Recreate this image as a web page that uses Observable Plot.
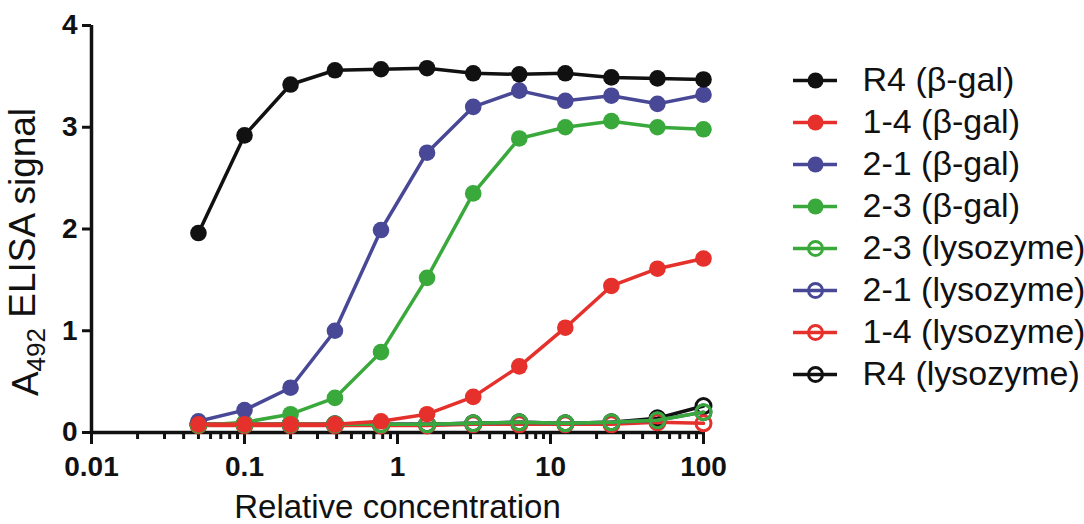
<!DOCTYPE html>
<html>
<head>
<meta charset="utf-8">
<script src="https://cdn.jsdelivr.net/npm/d3@7"></script>
<script src="https://cdn.jsdelivr.net/npm/@observablehq/plot@0.6"></script>
<style>
  html, body { margin: 0; padding: 0; background: #ffffff; }
  #wrap { display: flex; width: 1084px; height: 524px; }
</style>
</head>
<body>
<div id="wrap"></div>
<script>
// ---- data ----
const concentrations = [0.05, 0.1, 0.2, 0.39, 0.78, 1.56, 3.125, 6.25, 12.5, 25, 50, 100];
const seriesNames = ["R4 (β-gal)", "1-4 (β-gal)", "2-1 (β-gal)", "2-3 (β-gal)",
                     "2-3 (lysozyme)", "2-1 (lysozyme)", "1-4 (lysozyme)", "R4 (lysozyme)"];
const seriesColors = ["#111111", "#e5302b", "#484896", "#3aa93c",
                      "#3aa93c", "#484896", "#e5302b", "#111111"];
const seriesFilled = [true, true, true, true, false, false, false, false];
const r4Gal   = [1.96, 2.92, 3.42, 3.56, 3.57, 3.58, 3.53, 3.52, 3.53, 3.49, 3.48, 3.47];
const one4Gal = [0.08, 0.08, 0.08, 0.08, 0.11, 0.18, 0.35, 0.65, 1.03, 1.44, 1.61, 1.71];
const two1Gal = [0.11, 0.22, 0.44, 1.00, 1.99, 2.75, 3.20, 3.36, 3.26, 3.31, 3.23, 3.32];
const two3Gal = [0.07, 0.10, 0.18, 0.34, 0.79, 1.52, 2.35, 2.89, 3.00, 3.06, 3.00, 2.98];
const two3Lys = [0.08, 0.08, 0.08, 0.08, 0.08, 0.08, 0.09, 0.10, 0.09, 0.10, 0.12, 0.20];
const two1Lys = [0.08, 0.08, 0.08, 0.08, 0.08, 0.08, 0.09, 0.10, 0.09, 0.10, 0.12, 0.20];
const one4Lys = [0.07, 0.07, 0.07, 0.07, 0.07, 0.07, 0.08, 0.08, 0.08, 0.08, 0.10, 0.09];
const r4Lys   = [0.08, 0.08, 0.08, 0.08, 0.08, 0.08, 0.09, 0.10, 0.09, 0.10, 0.14, 0.26];
const seriesValues = [r4Gal, one4Gal, two1Gal, two3Gal, two3Lys, two1Lys, one4Lys, r4Lys];
const xTickValues = [0.01, 0.1, 1, 10, 100];
const yTickValues = [0, 1, 2, 3, 4];
const xLabel = "Relative concentration";

// ---- build table ----
const rows = [];
seriesNames.forEach((name, i) => {
  seriesValues[i].forEach((v, j) => rows.push({series: name, conc: concentrations[j], value: v}));
});
// minor log ticks (2..9 within each decade)
const minorTicks = [];
for (let k = 0; k < xTickValues.length - 1; k++)
  for (let m = 2; m <= 9; m++) minorTicks.push(+(xTickValues[k] * m).toPrecision(3));

// draw order: lysozyme series first, then β-gal series with R4 on top
const drawOrder = [7, 6, 5, 4, 3, 2, 1, 0];
const FONT = "'Liberation Sans', Arial, Helvetica, sans-serif";

const seriesMarks = [];
for (const i of drawOrder) {
  const data = rows.filter(d => d.series === seriesNames[i]);
  seriesMarks.push(Plot.line(data, {x: "conc", y: "value", stroke: seriesColors[i], strokeWidth: 3.5}));
  if (seriesFilled[i]) {
    seriesMarks.push(Plot.dot(data, {x: "conc", y: "value", r: 8.3, fill: seriesColors[i], stroke: "none"}));
  } else {
    seriesMarks.push(Plot.dot(data, {x: "conc", y: "value", r: 7.5, fill: "none", stroke: seriesColors[i], strokeWidth: 3}));
  }
}

const chart = Plot.plot({
  width: 740,
  height: 524,
  marginLeft: 91,
  marginRight: 37,
  marginTop: 25,
  marginBottom: 92,
  style: {fontFamily: FONT, background: "transparent", overflow: "visible", color: "#111"},
  x: {type: "log", domain: [0.01, 100]},
  y: {domain: [0, 4]},
  marks: [
    Plot.axisX({ticks: minorTicks, tickSize: 7, strokeWidth: 3, tickFormat: () => "", label: null}),
    Plot.axisX({ticks: xTickValues, tickSize: 12, tickPadding: 12, strokeWidth: 3,
                tickFormat: d => String(d), fontSize: 28, fontWeight: "bold", label: null}),
    Plot.axisY({ticks: yTickValues, tickSize: 9, tickPadding: 5, strokeWidth: 3,
                tickFormat: d => String(d), fontSize: 28, fontWeight: "bold", label: null}),
    Plot.ruleY([0], {stroke: "#111", strokeWidth: 3.5}),
    Plot.ruleX([0.01], {stroke: "#111", strokeWidth: 3.5}),
    Plot.text([xLabel], {text: d => d, frameAnchor: "bottom", dy: 85, fontSize: 33, fill: "#111"}),
    ...seriesMarks
  ]
});

// y-axis title with subscript
const svg = d3.select(chart);
const yt = svg.append("text")
  .attr("transform", "translate(38,252) rotate(-90)")
  .attr("text-anchor", "middle")
  .attr("font-size", 37)
  .attr("font-family", FONT)
  .attr("fill", "#111");
yt.append("tspan").text("A");
yt.append("tspan").attr("font-size", 26).attr("dy", "0.28em").text("492");
yt.append("tspan").attr("dy", "-0.28em").text(" ELISA signal");

// ---- legend (drawn with Plot too) ----
const legendRows = seriesNames.map((name, i) => ({name, color: seriesColors[i], filled: seriesFilled[i]}));
const legend = Plot.plot({
  width: 344,
  height: 524,
  margin: 0,
  style: {fontFamily: FONT, background: "transparent", overflow: "visible"},
  x: {type: "identity", axis: null},
  y: {type: "point", domain: seriesNames, range: [57, 397], axis: null},
  marks: [
    Plot.ruleY(legendRows, {y: "name", x1: 53, x2: 97, stroke: "color", strokeWidth: 3.5}),
    Plot.dot(legendRows.filter(d => d.filled), {x: 75, y: "name", r: 8, fill: "color", stroke: "none"}),
    Plot.dot(legendRows.filter(d => !d.filled), {x: 75, y: "name", r: 7, fill: "none", stroke: "color", strokeWidth: 3}),
    Plot.text(legendRows, {x: 122, y: "name", text: "name", textAnchor: "start", fontSize: 34, fill: "#111"})
  ]
});

const wrap = document.getElementById("wrap");
wrap.appendChild(chart);
wrap.appendChild(legend);
</script>
</body>
</html>
